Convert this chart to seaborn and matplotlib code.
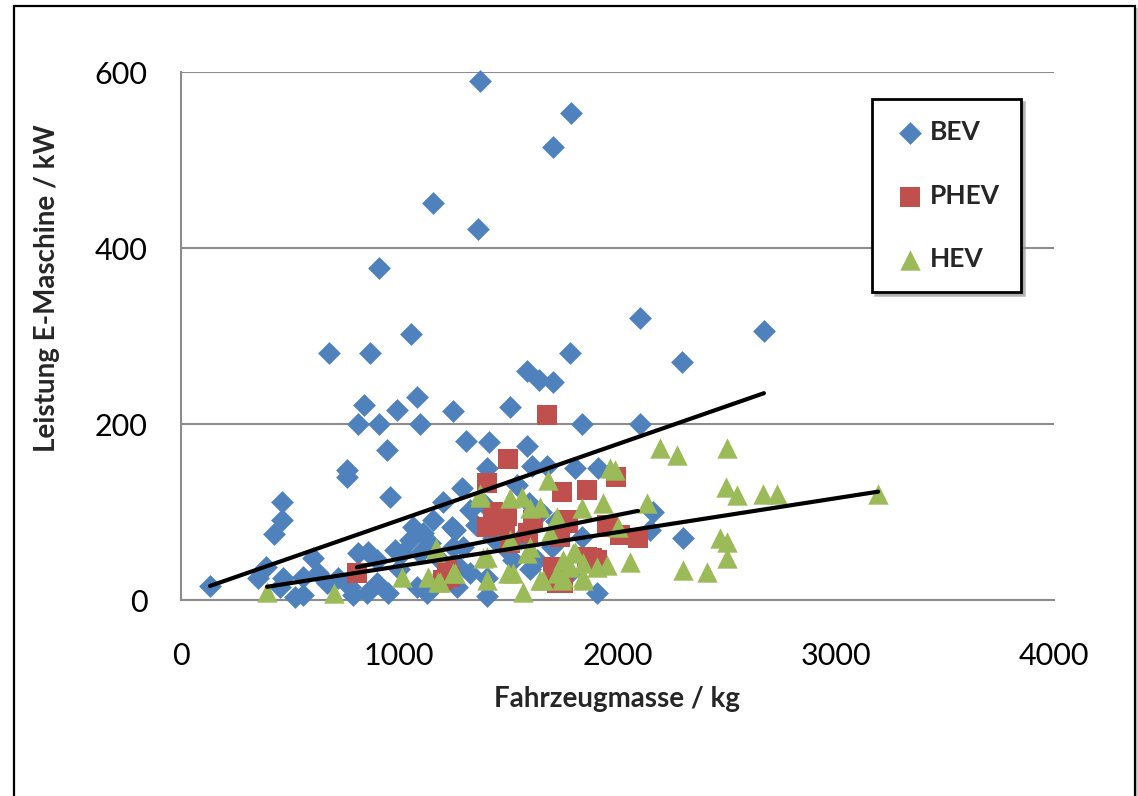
import numpy as np
import pandas as pd
import matplotlib
matplotlib.use("Agg")
import matplotlib.pyplot as plt
import seaborn as sns
from matplotlib.patches import Rectangle

# ---------------- data ----------------
bev_mass = [133, 1370, 1787, 1704, 1155, 1361, 907, 1054, 678, 866, 2103, 2671, 2296, 1081,
            1585, 1640, 1704, 1782, 1507, 1246, 990, 839, 811, 907, 1095, 1837, 2103, 944,
            1306, 1411, 1585, 1402, 1608, 1677, 1805, 1911, 958, 761, 761, 463, 463, 426,
            1287, 1200, 1324, 1384, 1540, 1595, 2163, 2149, 2301, 1906,
            353, 389, 467, 454, 522, 559, 559, 605, 628, 669, 811, 857, 774, 788, 852, 898,
            948, 981, 1013, 1063, 1109, 1155, 1242, 1049, 1095, 1141, 1187, 1246, 1081, 1127,
            1155, 1264, 1324, 1255, 1292, 1264, 1402, 1631, 1837, 1480, 1560, 1650, 1720,
            1350, 1430, 1520, 1700, 1000, 720, 900, 1200, 1400, 1600, 1780]
bev_power = [16, 590, 553, 515, 451, 422, 377, 302, 281, 281, 320, 306, 270, 231,
             260, 250, 248, 281, 219, 215, 216, 222, 200, 200, 200, 200, 200, 170,
             181, 180, 175, 150, 152, 152, 150, 150, 117, 148, 140, 111, 91, 75,
             127, 111, 102, 110, 131, 110, 100, 80, 70, 8,
             25, 38, 25, 15, 3, 6, 26, 48, 31, 19, 53, 55, 15, 6, 8, 19,
             8, 57, 53, 83, 76, 91, 83, 68, 53, 65, 45, 60, 15, 8,
             15, 15, 31, 80, 60, 40, 25, 45, 72, 60, 70, 100, 90,
             85, 70, 45, 60, 35, 25, 45, 30, 5, 35, 30]

phev_mass = [1677, 1498, 1402, 1746, 1860, 1993, 1402, 1494, 1484, 1613, 1773, 1737, 1956,
             2011, 2094, 1507, 1704, 1723, 1860, 1906, 1590, 1233, 806, 1200, 1219, 1769,
             1952, 1883, 1750, 1430]
phev_power = [210, 160, 133, 123, 125, 140, 83, 95, 85, 91, 87, 72, 83,
              74, 70, 65, 38, 19, 49, 45, 76, 26, 31, 23, 38, 91,
              85, 48, 19, 100]

hev_mass = [3194, 394, 701, 1013, 1168, 1132, 1187, 1255, 1370, 1164, 1178, 1246, 1370,
            1507, 1562, 1645, 1682, 1723, 1402, 1507, 1585, 1402, 1521, 1567, 1645, 1723,
            1750, 1599, 1966, 1988, 1837, 1933, 2135, 2195, 2273, 2502, 2497, 2548, 2667,
            2731, 2470, 2502, 2502, 2301, 2410, 2057, 1952, 2002, 1384, 1498, 1659, 1746,
            1805, 1842, 1842, 1906, 1690, 1796, 1782, 1842, 1750, 1600]
hev_power = [120, 9, 8, 26, 59, 26, 20, 31, 121, 55, 20, 31, 117,
             116, 117, 106, 136, 94, 49, 68, 53, 23, 31, 9, 23, 31,
             45, 104, 150, 148, 104, 110, 110, 173, 165, 173, 128, 119, 120,
             120, 70, 66, 48, 34, 32, 43, 40, 83, 48, 31, 23, 23,
             55, 42, 23, 38, 76, 53, 38, 26, 26, 60]

series_names = ["BEV", "PHEV", "HEV"]
series_colors = ["#4F81BD", "#C0504D", "#9BBB59"]
# linear trend lines (slope kW/kg, intercept kW) as shown in the chart
trend_slope = [0.0863, 0.0497, 0.0386]
trend_intercept = [4.5, -2.8, -0.2]

x_ticks = [0, 1000, 2000, 3000, 4000]
y_ticks = [0, 200, 400, 600]
x_label = "Fahrzeugmasse / kg"
y_label = "Leistung E-Maschine / kW"

# ---------------- figure ----------------
sns.set_theme(style="white")
plt.rcParams["font.family"] = ["Lato", "DejaVu Sans"]

W, H = 1138, 796
fig = plt.figure(figsize=(W / 100, H / 100), dpi=100)
ax = fig.add_axes([181 / W, 1 - 600 / H, (1054 - 181) / W, (600 - 72) / H])

df = pd.concat([
    pd.DataFrame({"mass": bev_mass, "power": bev_power, "typ": "BEV"}),
    pd.DataFrame({"mass": phev_mass, "power": phev_power, "typ": "PHEV"}),
    pd.DataFrame({"mass": hev_mass, "power": hev_power, "typ": "HEV"}),
], ignore_index=True)

markers = {"BEV": "D", "PHEV": "s", "HEV": "^"}
sizes = {"BEV": 135, "PHEV": 195, "HEV": 215}
for name, col in zip(series_names, series_colors):
    sub = df[df["typ"] == name]
    sns.scatterplot(data=sub, x="mass", y="power", ax=ax, marker=markers[name],
                    s=sizes[name], color=col, linewidth=0, label=name,
                    clip_on=False, zorder=3)

# trend lines
xs_all = [bev_mass, phev_mass, hev_mass]
for xs, m, b in zip(xs_all, trend_slope, trend_intercept):
    xr = np.array([min(xs), max(xs)])
    sns.lineplot(x=xr, y=m * xr + b, ax=ax, color="black", linewidth=3.0,
                 zorder=5, legend=False)

ax.set_xlim(0, 4000)
ax.set_ylim(0, 600)
ax.set_xticks(x_ticks)
ax.set_yticks(y_ticks)
ax.tick_params(axis="both", labelsize=22, colors="#888888", labelcolor="black",
               length=6, width=1.5, direction="out")
ax.tick_params(axis="x", pad=24)
ax.tick_params(axis="y", pad=18)
ax.grid(axis="y", color="#8c8c8c", linewidth=1.5)
ax.grid(axis="x", visible=False)
for s in ["top", "right"]:
    ax.spines[s].set_visible(False)
for s in ["left", "bottom"]:
    ax.spines[s].set_color("#8c8c8c")
    ax.spines[s].set_linewidth(1.5)
ax.set_axisbelow(True)

ax.set_xlabel(x_label, fontsize=20, fontweight="bold")
ax.set_ylabel(y_label, fontsize=20, fontweight="bold")
ax.xaxis.set_label_coords(0.5, -(686 - 600) / 528)
ax.yaxis.set_label_coords((60 - 181) / 873, 1 - (288 - 72) / 528)

leg = ax.legend(loc="upper left", bbox_to_anchor=(872 / W, 1 - 99 / H),
                bbox_transform=fig.transFigure, borderaxespad=0,
                frameon=True, fancybox=False, shadow={"color": "#999999", "alpha": 0.6},
                prop={"weight": "bold", "size": 19}, labelspacing=1.5,
                handletextpad=0.1, handlelength=1.3, borderpad=0.8,
                markerscale=1.0)
leg.get_frame().set_edgecolor("black")
leg.get_frame().set_linewidth(2)

# outer chart-area frame with light shadow
fig.patches.append(Rectangle((16 / W, -0.1), (1137 - 14) / W, 1 - 8 / H + 0.1,
                             transform=fig.transFigure, fill=True, fc="#cccccc",
                             ec="none", zorder=-2))
fig.patches.append(Rectangle((14 / W, -0.1), (1135 - 14) / W, 1 - 6 / H + 0.1,
                             transform=fig.transFigure, fill=True, fc="white",
                             ec="black", lw=1.6, zorder=-1))

fig.savefig("out.png", dpi=100)
